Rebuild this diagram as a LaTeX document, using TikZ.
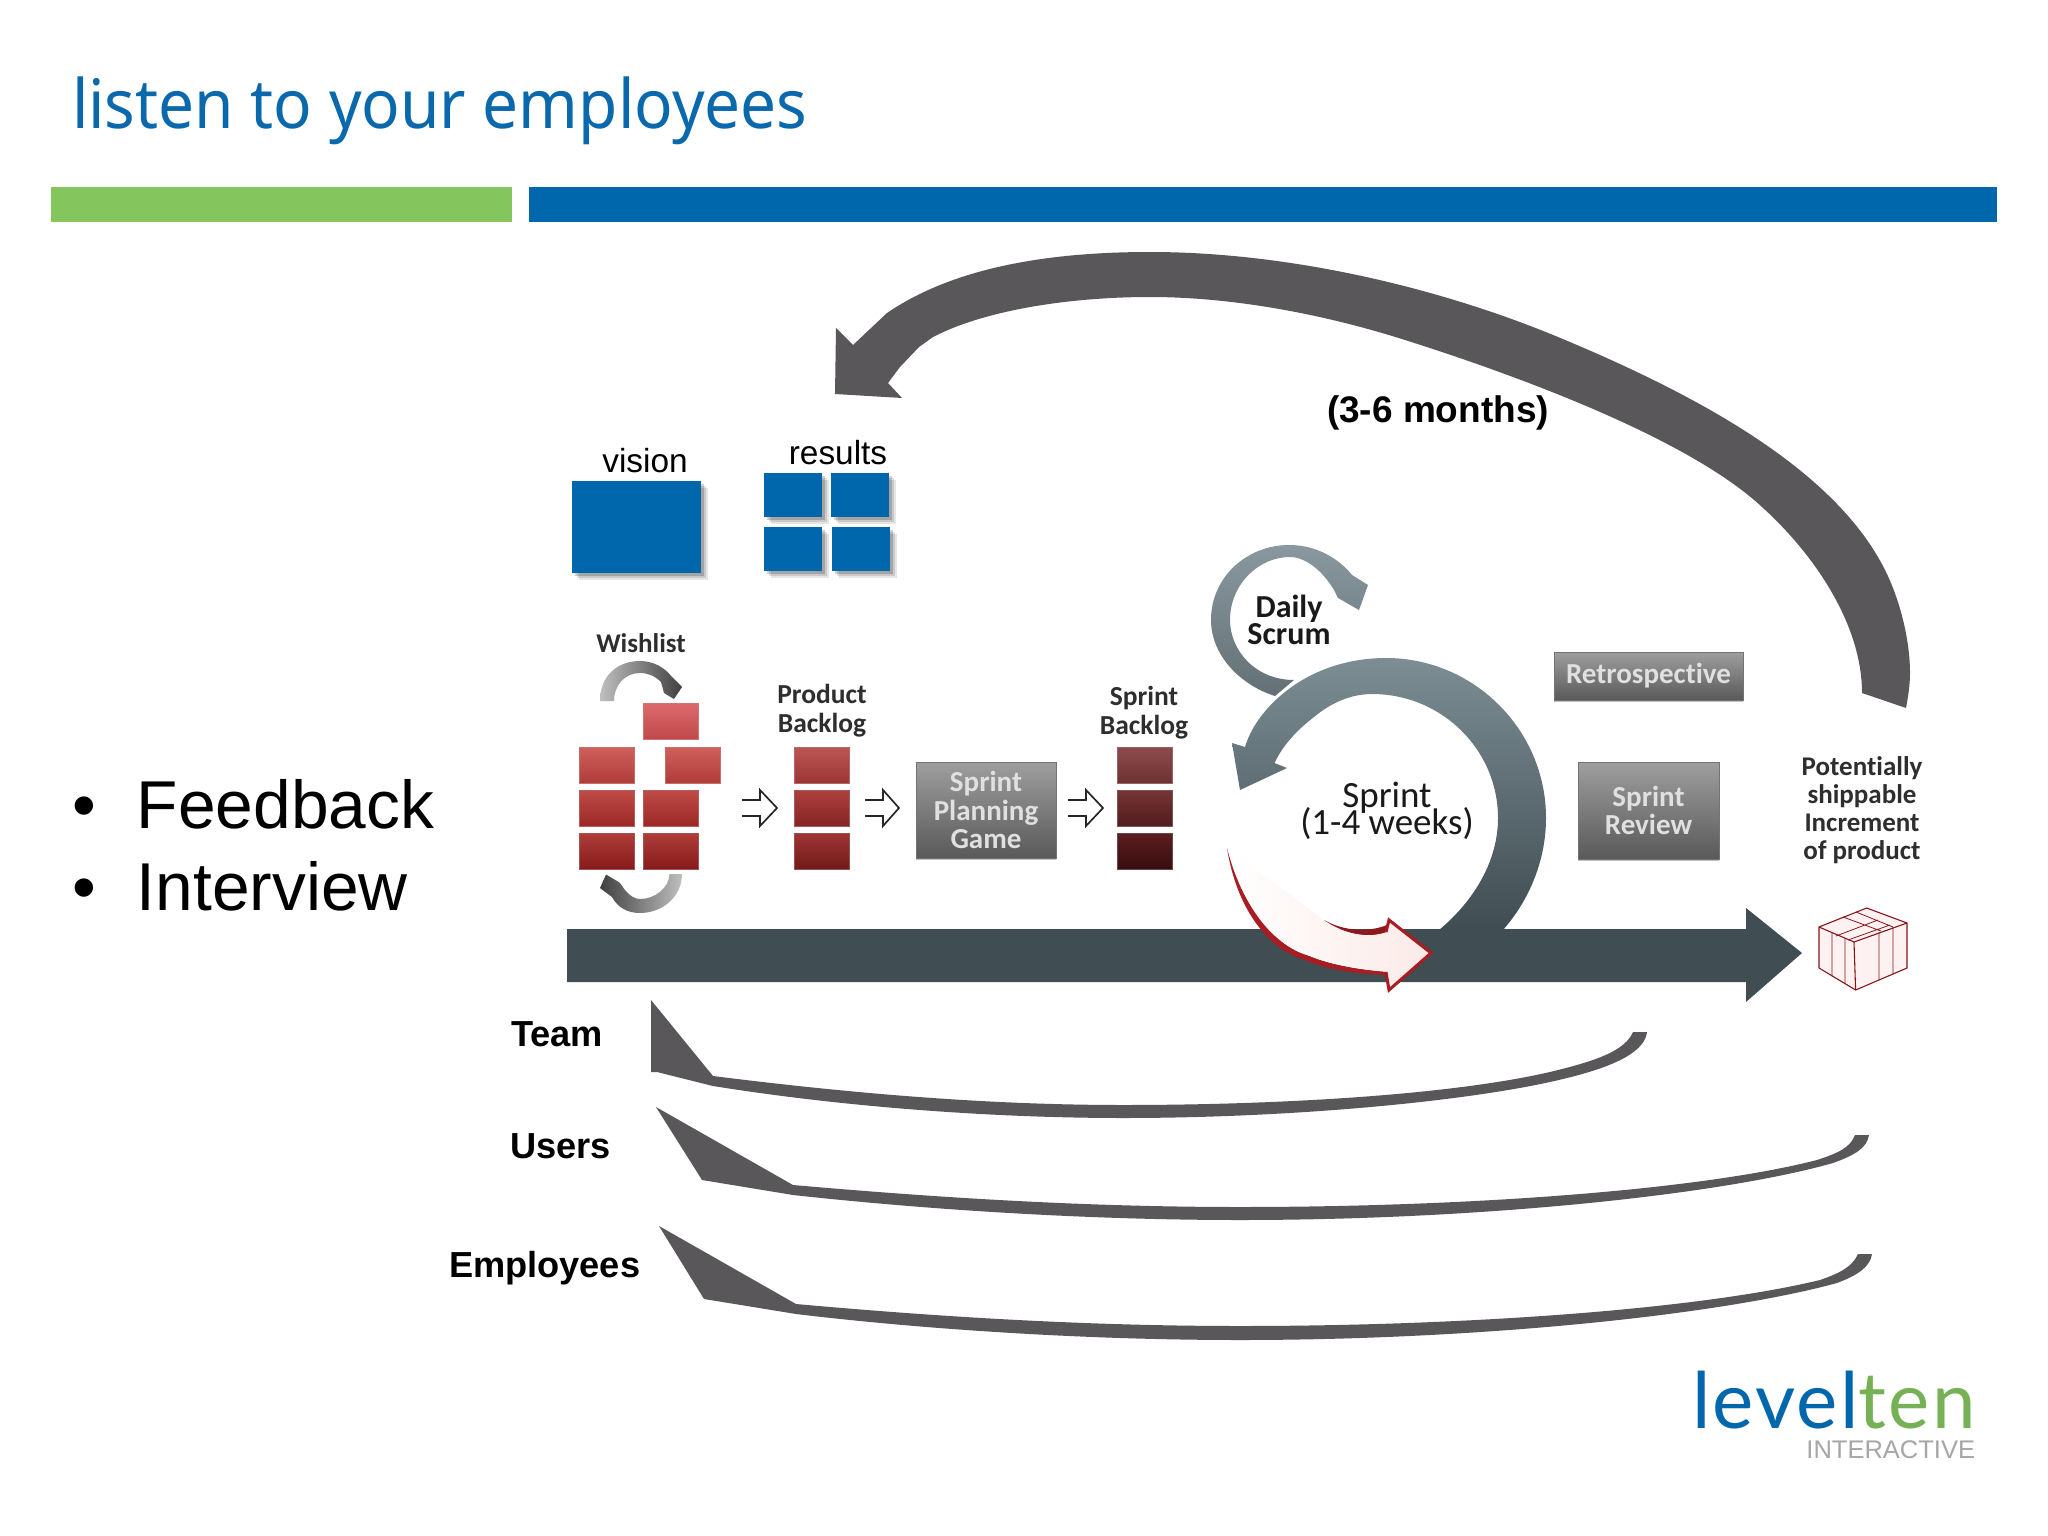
\documentclass[tikz,border=0pt]{standalone}
\usepackage{fontspec}
\setmainfont{Liberation Sans}
\newfontfamily\myr[Ligatures=NoCommon]{Carlito}
\newfontfamily\ttl[FakeStretch=0.94]{Noto Sans}
\newfontfamily\lgo[LetterSpace=3]{Lato}
\newcommand\nolsk{\lineskiplimit=-100pt\relax}
\definecolor{ttlblue}{HTML}{0A68AC}
\definecolor{barblue}{HTML}{0067AC}
\definecolor{bargreen}{HTML}{84C55E}
\definecolor{arcgray}{HTML}{59575A}
\definecolor{slatedark}{HTML}{404D53}
\definecolor{slatelight}{HTML}{7C8D94}
\definecolor{redline}{HTML}{A81C22}
\definecolor{pinkfill}{HTML}{FBEAE7}
\definecolor{labeldark}{HTML}{2E2E2E}
\definecolor{wa}{HTML}{DC6A6C}\definecolor{wb}{HTML}{C0484A}
\definecolor{wc}{HTML}{D0605C}\definecolor{wd}{HTML}{B03C3A}
\definecolor{we}{HTML}{C04C48}\definecolor{wf}{HTML}{9C2826}
\definecolor{wg}{HTML}{B03E3A}\definecolor{wh}{HTML}{861A1A}
\definecolor{pa}{HTML}{BC5654}\definecolor{pb}{HTML}{9C3634}
\definecolor{pc}{HTML}{AE403E}\definecolor{pd}{HTML}{842424}
\definecolor{pe}{HTML}{A03634}\definecolor{pf}{HTML}{701A1A}
\definecolor{sa}{HTML}{8E4A4C}\definecolor{sb}{HTML}{6E3234}
\definecolor{sc}{HTML}{783436}\definecolor{sd}{HTML}{501C1E}
\definecolor{se}{HTML}{5E1E20}\definecolor{sf}{HTML}{380C0E}
\tikzset{
  txt/.style={inner sep=0pt,outer sep=0pt,anchor=base,align=center},
  softsh/.style={
    preaction={fill=black,opacity=.10,transform canvas={xshift=7pt,yshift=-7pt}},
    preaction={fill=black,opacity=.12,transform canvas={xshift=5pt,yshift=-5pt}},
    preaction={fill=black,opacity=.18,transform canvas={xshift=3pt,yshift=-3pt}}},
  bluebox/.style={rectangle,fill=barblue,inner sep=0pt,minimum width=58pt,minimum height=43.5pt,softsh},
  brick/.style n args={2}{rectangle,inner sep=0pt,minimum width=55pt,minimum height=36pt,
    top color=#1,bottom color=#2,draw=#2!75!white,line width=.8pt},
  graybox/.style={rectangle,inner sep=0pt,top color=black!38,bottom color=black!65,
    draw=black!55,line width=.8pt,text=white!88!black,font=\myr\bfseries\fontsize{29}{28.5}\selectfont\nolsk,align=center,
    preaction={fill=black,opacity=.25,transform canvas={yshift=-2pt}}},
  smalllab/.style={txt,text=labeldark,font=\myr\bfseries\fontsize{27.5}{29}\selectfont\nolsk},
  biglab/.style={txt,text=black!90,font=\myr\fontsize{37}{26.5}\selectfont\nolsk},
  grp/.style={txt,font=\bfseries\fontsize{36.2}{36}\selectfont,anchor=base west},
  bullettxt/.style={txt,anchor=base west,font=\fontsize{67.7}{67}\selectfont},
  thinlab/.style={txt,font=\fontsize{33.4}{33}\selectfont},
  openarrow/.style={draw=black!85,line width=1.7pt,line join=miter},
  arcfill/.style={fill=arcgray},
  boxline/.style={draw=redline!80!black,line width=1.1pt,line join=round},
}
\begin{document}
\begin{tikzpicture}[x=1pt,y=-1pt]
\useasboundingbox[fill=white] (0,0) rectangle (2048,1536);

% title and rule bars
\node[txt,anchor=base west,text=ttlblue,font=\ttl\fontsize{68}{68}\selectfont] (title) at (72,129) {listen to your employees};
\node[rectangle,fill=bargreen,inner sep=0pt,minimum width=461pt,minimum height=35pt] (greenbar) at (281.5,204.5) {};
\node[rectangle,fill=barblue,inner sep=0pt,minimum width=1468pt,minimum height=35pt] (bluebar) at (1263,204.5) {};

% bullets
\node[bullettxt] (b1) at (72,828) {\makebox[65pt][l]{•}Feedback};
\node[bullettxt] (b2) at (72,910) {\makebox[65pt][l]{•}Interview};

% big feedback arrow
\fill[arcfill] (887,313)
  .. controls (950,270) and (1040,252) .. (1150,252)
  .. controls (1290,252) and (1440,288) .. (1558,337)
  .. controls (1700,396) and (1835,470) .. (1885,570)
  .. controls (1900,600) and (1910,640) .. (1910,673)
  .. controls (1910,685) and (1908,697) .. (1906,708)
  -- (1862,693)
  .. controls (1862,625) and (1815,555) .. (1762,507)
  .. controls (1690,440) and (1525,378) .. (1405,340)
  .. controls (1320,313) and (1230,297) .. (1150,297)
  .. controls (1070,297) and (985,310) .. (933,337)
  -- (919,347) -- (900,367) -- (888,383) -- (902,398) -- (835,394) -- (836,328) -- (853,345) -- cycle;
\node[grp,font=\bfseries\fontsize{37}{37}\selectfont] (months) at (1327,422) {(3-6 months)};

% vision / results
\node[thinlab] (visionlab) at (645,472) {vision};
\node[thinlab] (resultslab) at (838,464) {results};
\node[bluebox,minimum width=129pt,minimum height=92pt] (vision) at (636.5,527) {};
\node[bluebox] (r1) at (793,495) {};
\node[bluebox] (r2) at (860,495) {};
\node[bluebox] (r3) at (793,549) {};
\node[bluebox] (r4) at (861,549) {};

% wishlist
\node[smalllab,font=\myr\bfseries\fontsize{27}{29}\selectfont] (wishlab) at (641,652) {Wishlist};
\shade[left color=black!25,right color=black!75]
  (600,701) .. controls (600,675) and (618,661) .. (640,661)
  .. controls (654,661) and (665,668) .. (672,677)
  -- (682,687) -- (674,699) -- (664,693) -- (661,682)
  .. controls (655,676) and (648,673) .. (640,673)
  .. controls (625,673) and (614,685) .. (614,701) -- cycle;
\shade[left color=black!75,right color=black!25]
  (682,874) .. controls (682,897) and (662,913) .. (640,913)
  .. controls (628,913) and (618,908) .. (612,897)
  -- (600,888) -- (606,874.5) -- (619.5,882.5) -- (625,890)
  .. controls (630,896) and (635,899) .. (640,899)
  .. controls (655,899) and (669,888) .. (669.5,874) -- cycle;
\node[brick={wa}{wb}] (w0) at (671,721) {};
\node[brick={wc}{wd}] (w1) at (607,765) {};
\node[brick={wc}{wd}] (w2) at (693,765) {};
\node[brick={we}{wf}] (w3) at (607,808) {};
\node[brick={we}{wf}] (w4) at (671,808) {};
\node[brick={wg}{wh}] (w5) at (607,851) {};
\node[brick={wg}{wh}] (w6) at (671,851) {};

% product backlog
\node[smalllab] (pblab) at (822,732) {Product\\Backlog};
\node[brick={pa}{pb}] (p1) at (822,765) {};
\node[brick={pc}{pd}] (p2) at (822,808) {};
\node[brick={pe}{pf}] (p3) at (822,851) {};

% sprint backlog
\node[smalllab] (sblab) at (1144,734) {Sprint\\Backlog};
\node[brick={sa}{sb}] (s1) at (1145,765) {};
\node[brick={sc}{sd}] (s2) at (1145,808) {};
\node[brick={se}{sf}] (s3) at (1145,851) {};

% planning game
\node[graybox,minimum width=140pt,minimum height=96pt] (spg) at (986,810) {Sprint\\Planning\\Game};

% open arrows
\draw[openarrow] (742,800) -- (760,800) -- (760,790) -- (777,808) -- (760,826) -- (760,816) -- (742,816);
\draw[openarrow] (865,800) -- (883,800) -- (883,790) -- (899,808) -- (883,826) -- (883,816) -- (865,816);
\draw[openarrow] (1068,800) -- (1086,800) -- (1086,790) -- (1103,808) -- (1086,826) -- (1086,816) -- (1068,816);

% timeline bar
\fill[slatedark] (567,929) -- (1746,929) -- (1746,908) -- (1802,953) -- (1746,1002) -- (1746,982) -- (567,982) -- cycle;

% daily scrum loop
\shade[top color=slatelight!90!white,bottom color=slatelight!80!black]
  (1294,680) .. controls (1255,680) and (1230,650) .. (1230,620)
  .. controls (1230,585) and (1258,557) .. (1290,557)
  .. controls (1305,557) and (1322,570) .. (1334,590)
  -- (1338,598) -- (1359,610) -- (1368,585) -- (1352,575)
  .. controls (1340,560) and (1318,545) .. (1289,545)
  .. controls (1247,545) and (1211,577) .. (1211,620)
  .. controls (1211,655) and (1240,685) .. (1275,696) -- cycle;

% sprint ring
\shade[top color=slatelight,bottom color=slatedark]
  (1503,930) .. controls (1531,898) and (1546,858) .. (1546,818)
  .. controls (1546,730) and (1474,658) .. (1386,658)
  .. controls (1345,658) and (1307,672) .. (1279,697)
  .. controls (1262,712) and (1250,730) .. (1245,747)
  -- (1232,743) -- (1240,790) -- (1287,768) -- (1274.5,763)
  .. controls (1283,745) and (1297,730) .. (1314,717)
  .. controls (1332,702) and (1352,694) .. (1372,694)
  .. controls (1442,694) and (1498,750) .. (1498,818)
  .. controls (1498,860) and (1475,900) .. (1439,930) -- cycle;

\node[txt,text=black!90,font=\myr\bfseries\fontsize{32}{27}\selectfont\nolsk] (dailylab) at (1289,644) {Daily\\Scrum};
\node[biglab] (sprintlab) at (1387,834) {Sprint\\(1-4 weeks)};

% red increment arrow
\shade[left color=white,right color=pinkfill]
  (1227,848) .. controls (1240,900) and (1270,945) .. (1309,956)
  .. controls (1330,965) and (1360,970) .. (1386,972)
  -- (1389,990) -- (1431,953) -- (1389,920) -- (1386,932)
  .. controls (1370,938) and (1345,935) .. (1324,920) -- cycle;
\fill[redline] (1227,848) .. controls (1240,900) and (1270,945) .. (1309,956)
  .. controls (1330,965) and (1360,970) .. (1386,972)
  -- (1386,975) .. controls (1355,974) and (1325,969) .. (1305,960)
  .. controls (1265,948) and (1236,905) .. (1227,848) -- cycle;
\fill[redline!85!black] (1324,920) .. controls (1345,935) and (1370,938) .. (1386,932) -- (1387,925)
  .. controls (1370,932) and (1345,932) .. (1324,920) -- cycle;
\draw[draw=redline,line width=3pt,line join=miter] (1386,972) -- (1389,990) -- (1431,953) -- (1389,920) -- (1386,932);

% retrospective and review
\node[graybox,minimum width=189pt,minimum height=48pt] (retro) at (1648.5,676) {Retrospective};
\node[graybox,minimum width=141pt,minimum height=97pt] (review) at (1648.5,810.5) {\raisebox{3pt}{\parbox{100pt}{\centering Sprint\\Review}}};

% increment label and box
\node[smalllab,font=\myr\bfseries\fontsize{27}{28}\selectfont\nolsk] (potlab) at (1862,859) {Potentially\\shippable\\Increment\\of product};
\filldraw[boxline,fill=pinkfill!60!white] (1819,927) -- (1866.6,908) -- (1907,923) -- (1907,968) -- (1855.6,990) -- (1819,968) -- cycle;
\draw[boxline] (1819,927) -- (1854,942) -- (1907,923);
\draw[boxline] (1854,942) -- (1855.6,990);
\draw[boxline,line width=.8pt] (1832,933) -- (1832,976) (1845,938) -- (1845,984) (1879,932) -- (1879,980) (1893,927) -- (1893,974)
  (1843,917) -- (1881,931) (1856,912) -- (1893,927) (1836,936) -- (1878,920) (1848,940) -- (1890,925);

% team, users, employees loops
\node[grp] (team) at (511,1046) {Team};
\node[grp] (users) at (510,1158) {Users};
\node[grp] (employees) at (449,1277) {Employees};
\fill[arcfill] (651,1000) -- (651,1072) -- (657,1072) -- (713,1086)
  .. controls (850,1108) and (1000,1118) .. (1123,1118)
  .. controls (1300,1118) and (1480,1100) .. (1567,1078)
  .. controls (1620,1065) and (1645,1050) .. (1647,1032)
  -- (1633,1032)
  .. controls (1625,1050) and (1600,1060) .. (1550,1072)
  .. controls (1450,1095) and (1280,1105) .. (1123,1105)
  .. controls (980,1105) and (840,1092) .. (713,1076) -- cycle;
\fill[arcfill] (656,1107) -- (702,1180) -- (793,1195)
  .. controls (930,1210) and (1090,1220) .. (1240,1220)
  .. controls (1480,1220) and (1720,1195) .. (1833,1163)
  .. controls (1855,1155) and (1867,1148) .. (1869,1135)
  -- (1855,1135)
  .. controls (1850,1148) and (1838,1153) .. (1817,1160)
  .. controls (1700,1190) and (1470,1207) .. (1240,1207)
  .. controls (1080,1207) and (930,1197) .. (793,1185) -- cycle;
\fill[arcfill] (659,1226) -- (704,1299) -- (796,1314)
  .. controls (930,1330) and (1090,1340) .. (1240,1340)
  .. controls (1480,1340) and (1720,1315) .. (1837,1283)
  .. controls (1858,1275) and (1870,1267) .. (1872,1254)
  -- (1858,1254)
  .. controls (1852,1267) and (1840,1273) .. (1820,1280)
  .. controls (1700,1309) and (1470,1326) .. (1240,1326)
  .. controls (1080,1326) and (930,1316) .. (796,1304) -- cycle;

% logo
\node[txt,anchor=base west,font=\lgo\fontsize{78}{78}\selectfont] (logo) at (1692,1428) {\textcolor{barblue}{level}\textcolor{bargreen!90!black}{ten}};
\node[txt,anchor=base east,text=black!35,font=\fontsize{25.5}{25}\selectfont] (logosub) at (1975,1458) {INTERACTIVE};
\end{tikzpicture}
\end{document}
